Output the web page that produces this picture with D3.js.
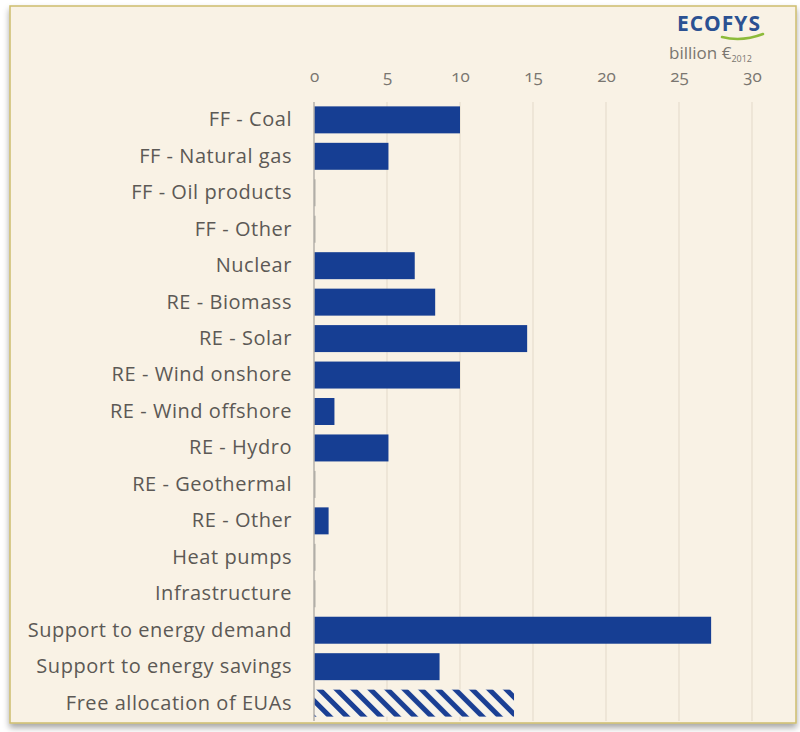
<!DOCTYPE html>
<html><head><meta charset="utf-8">
<script src="https://cdn.jsdelivr.net/npm/d3@7"></script>
<style>
html,body{margin:0;padding:0;background:#fff;}
svg{display:block;}
text{font-family:"Open Sans",Lato,sans-serif;}
</style></head>
<body>
<svg id="c" width="800" height="732"></svg>
<script>
const categories = ["FF - Coal","FF - Natural gas","FF - Oil products","FF - Other","Nuclear","RE - Biomass","RE - Solar","RE - Wind onshore","RE - Wind offshore","RE - Hydro","RE - Geothermal","RE - Other","Heat pumps","Infrastructure","Support to energy demand","Support to energy savings","Free allocation of EUAs"];
const values = [10.0,5.1,0.1,0.1,6.9,8.3,14.6,10.0,1.4,5.1,0.1,1.0,0.1,0.1,27.2,8.6,13.7];
const hatched = [false,false,false,false,false,false,false,false,false,false,false,false,false,false,false,false,true];
const tickValues = [0,5,10,15,20,25,30];

const svg = d3.select("#c");
const defs = svg.append("defs");
const sh = defs.append("filter").attr("id","sh").attr("x","-5%").attr("y","-5%").attr("width","110%").attr("height","112%");
sh.append("feDropShadow").attr("dx",0).attr("dy",4).attr("stdDeviation",3).attr("flood-color","#000").attr("flood-opacity",0.35);
const pat = defs.append("pattern").attr("id","hatch").attr("patternUnits","userSpaceOnUse")
  .attr("width",12).attr("height",12).attr("patternTransform","rotate(-45)");
pat.append("rect").attr("width",12).attr("height",12).attr("fill","#f7f3ea");
pat.append("rect").attr("x",0).attr("width",5).attr("height",12).attr("fill","#1a3f94");

// frame
svg.append("rect").attr("x",10).attr("y",6).attr("width",786).attr("height",717)
  .attr("fill","#f9f2e5").attr("stroke","#cdbd6e").attr("stroke-width",1.5).attr("filter","url(#sh)");

const x = d3.scaleLinear().domain([0,30]).range([314,752]);
const y = d3.scaleBand().domain(categories).range([102,721]).paddingInner(0.26).paddingOuter(0.12);

// gridlines
svg.append("g").selectAll("line").data(tickValues.slice(1)).join("line")
  .attr("x1",d=>x(d)).attr("x2",d=>x(d)).attr("y1",102).attr("y2",721)
  .attr("stroke","#e6ddcd").attr("stroke-width",1.2);

// top axis
const ax = svg.append("g").attr("transform","translate(0,86)")
  .call(d3.axisTop(x).tickValues(tickValues).tickSize(0).tickPadding(4));
ax.select(".domain").remove();
ax.selectAll("text").attr("fill","#7a7670").attr("font-size",17).style("font-variant-numeric","oldstyle-nums");

// bars
svg.append("g").selectAll("rect").data(categories).join("rect")
  .attr("x",x(0))
  .attr("y",d=>y(d))
  .attr("height",y.bandwidth())
  .attr("width",(d,i)=>Math.max(0,x(values[i])-x(0)))
  .attr("fill",(d,i)=>hatched[i] ? "url(#hatch)" : (values[i] < 0.5 ? "#a9a6a0" : "#163e93"));

// zero axis
svg.append("line").attr("x1",x(0)).attr("x2",x(0)).attr("y1",102).attr("y2",721)
  .attr("stroke","#b5b1aa").attr("stroke-width",1.5);

// category labels
const yax = svg.append("g").attr("transform",`translate(${x(0)},0)`)
  .call(d3.axisLeft(y).tickSize(0).tickPadding(22));
yax.select(".domain").remove();
yax.selectAll("text").attr("fill","#5c5955").attr("font-size",20).attr("letter-spacing",0.55);

// logo
svg.append("text").attr("x",761).attr("y",31).attr("text-anchor","end")
  .attr("font-size",21).attr("font-weight","bold").attr("fill","#2b5192").attr("letter-spacing",1).text("ECOFYS");
svg.append("path").attr("d","M722,37 Q742,42 763,34").attr("fill","none").attr("stroke","#8dbb3a").attr("stroke-width",2.5).attr("stroke-linecap","round");
const u = svg.append("text").attr("x",752).attr("y",59).attr("text-anchor","end").attr("fill","#7a7670").attr("font-size",17);
u.append("tspan").text("billion €");
u.append("tspan").attr("font-size",9).attr("dy",3).text("2012");
</script>
</body></html>
